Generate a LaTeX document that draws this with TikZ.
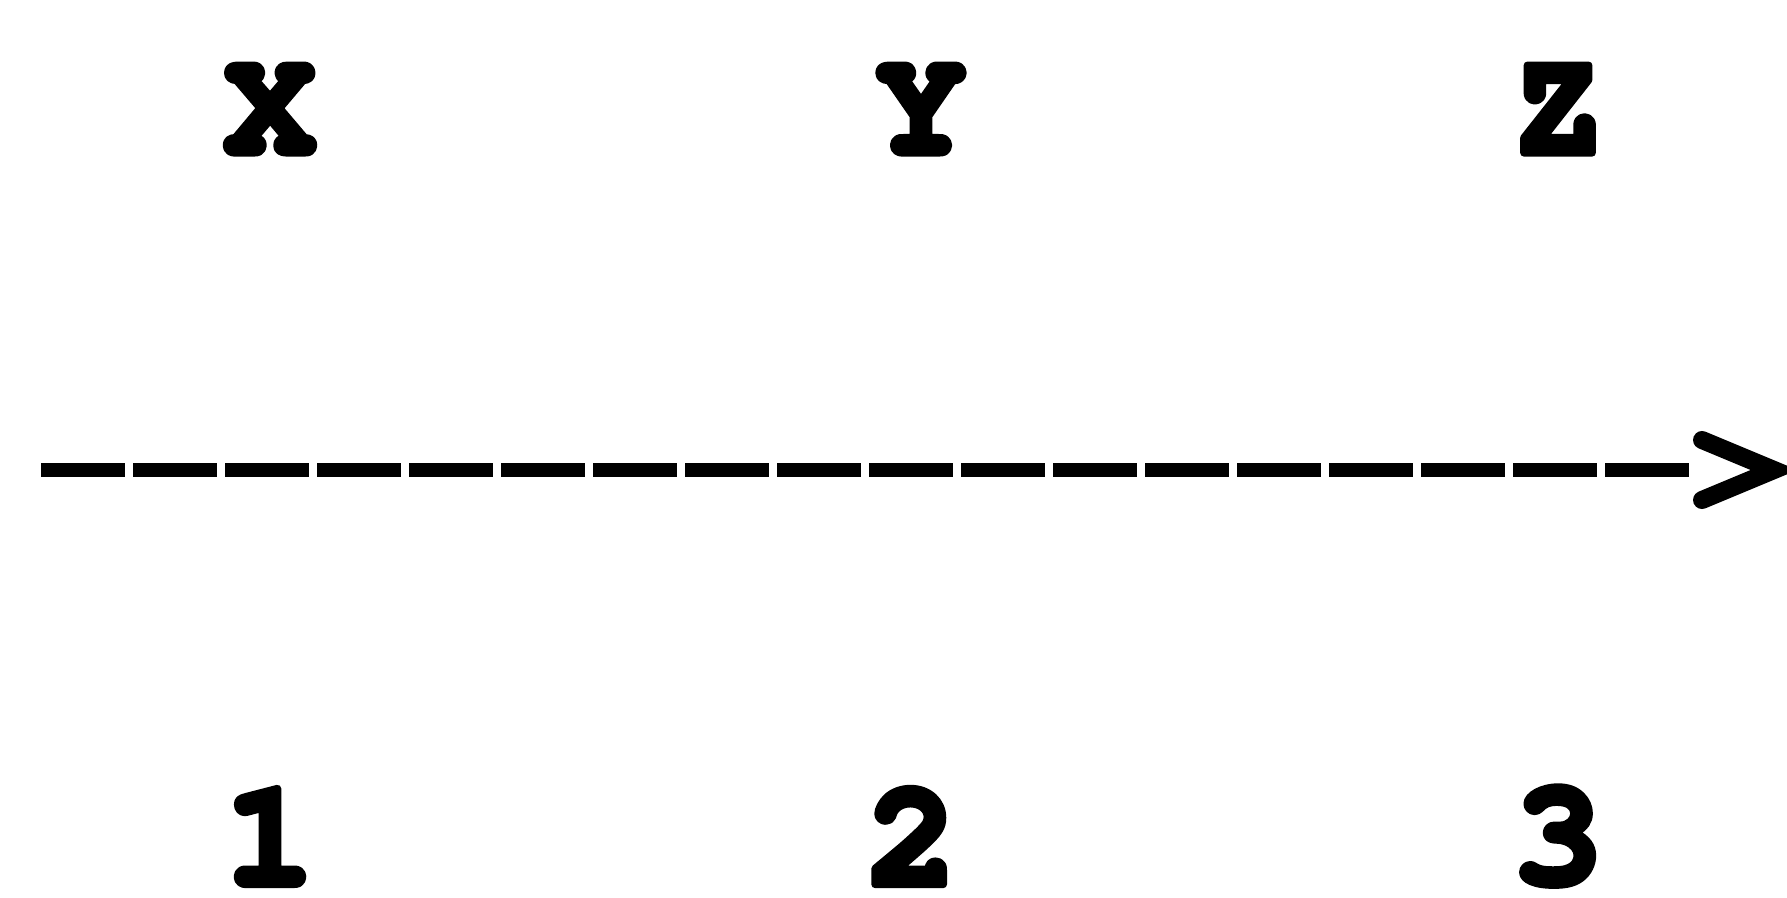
\documentclass[tikz,border=0pt]{standalone}
\usepackage[T1]{fontenc}
\usepackage{courier}
\newcommand{\heavy}[1]{\special{pdf:literal direct 2 Tr 3.8 w 1 j}#1\special{pdf:literal direct 0 Tr}}
\begin{document}
\begin{tikzpicture}[x=0.5pt,y=-0.5pt,
  lbl/.style={inner sep=0pt,font=\fontsize{75}{80}\selectfont\ttfamily\bfseries},
  dashline/.style={line width=7pt,dash pattern=on 42pt off 4pt,line cap=butt},
  chev/.style={line width=9pt,line cap=round,line join=miter}]
\useasboundingbox (0,0) rectangle (1787,898);
\node[lbl] (X) at (270,111) {\heavy{X}};
\node[lbl] (Y) at (921,111) {\heavy{Y}};
\node[lbl] (Z) at (1558,111) {\heavy{Z}};
\node[lbl] (n1) at (270,837) {\heavy{1}};
\node[lbl] (n2) at (912,837) {\heavy{2}};
\node[lbl] (n3) at (1558,837) {\heavy{3}};
\coordinate (s) at (41,470);
\coordinate (e) at (1689,470);
\coordinate (ct) at (1702,440);
\coordinate (cm) at (1774,470);
\coordinate (cb) at (1702,500);
\draw[dashline] (s) -- (e);
\draw[chev] (ct) -- (cm) -- (cb);
\end{tikzpicture}
\end{document}
